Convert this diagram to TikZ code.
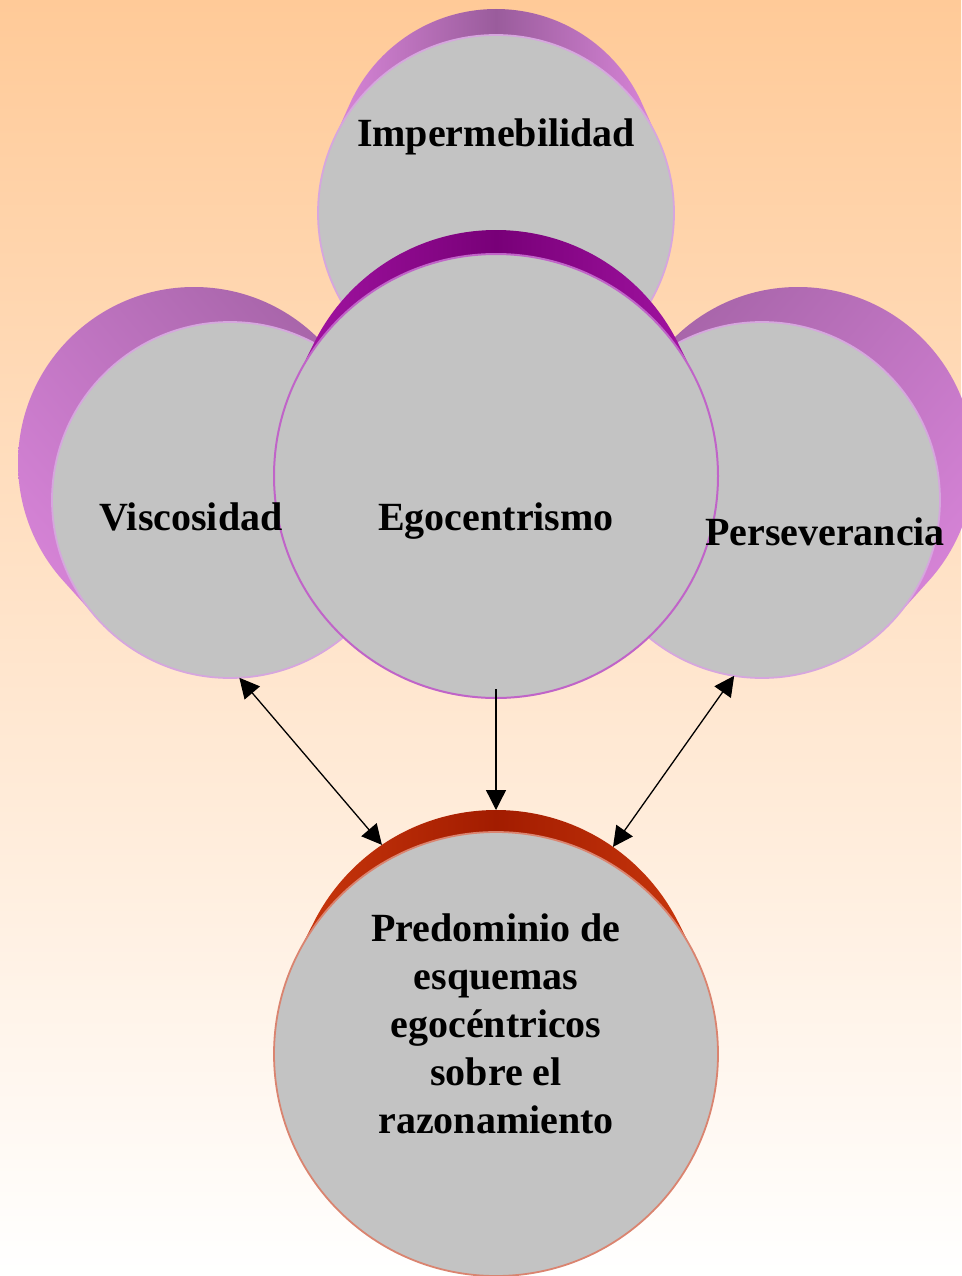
\documentclass[tikz,border=0pt]{standalone}
\usepackage{fontspec}
\setmainfont{Liberation Serif}
\usetikzlibrary{arrows.meta,calc,shadings}
\definecolor{bgtop}{HTML}{FFCA98}
\definecolor{facegray}{HTML}{C3C3C3}
\definecolor{rimlight}{HTML}{D6A6DE}
\definecolor{rimego}{HTML}{C064C8}
\definecolor{rimpred}{HTML}{DA8470}
\definecolor{orchdark}{HTML}{9A5C9C}
\definecolor{orchmid}{HTML}{C276C4}
\definecolor{orchlight}{HTML}{E08AE0}
\definecolor{magdark}{HTML}{780078}
\definecolor{maglight}{HTML}{A816A8}
\definecolor{reddark}{HTML}{A21C00}
\definecolor{redlight}{HTML}{CE3A0E}
\newcommand{\drumside}[7]{%
  \begin{scope}
    \clip foreach \k [evaluate=\k as \rr using {#3+(#6-#3)*\k/30}] in {0,...,30}
      {({#1+(#4-#1)*\k/30},{#2+(#5-#2)*\k/30}) circle [radius=\rr pt]};
    \shade[#7] ({min(#1-#3,#4-#6)-2},{min(#2-#3,#5-#6)-2}) rectangle ({max(#1+#3,#4+#6)+2},{max(#2+#3,#5+#6)+2});
  \end{scope}}
\tikzset{
  face/.style={circle, fill=facegray, inner sep=0pt, outer sep=0pt, line width=1.8pt},
  lbl/.style={font=\fontsize{40}{48}\selectfont\bfseries, anchor=base, inner sep=0pt},
  conn/.style={line width=1.3pt, -{Triangle[length=20pt,width=20pt]}},
  conn2/.style={line width=1.3pt, {Triangle[length=20pt,width=20pt]}-{Triangle[length=20pt,width=20pt]}},
}
\begin{document}
\begin{tikzpicture}[x=1pt,y=-1pt]
\useasboundingbox (0,0) rectangle (961,1276);
\shade[top color=bgtop, bottom color=white] (0,0) rectangle (961,1276);

% Impermebilidad
\drumside{496}{169}{160}{496}{213}{178}{left color=orchlight, right color=orchlight, middle color=orchdark}
\node[face, draw=rimlight, minimum size=356pt] (imp) at (496,213) {};

% Viscosidad
\drumside{194}{463}{176}{230}{500}{178}{upper right=orchdark, upper left=orchmid, lower left=orchlight, lower right=orchmid}
\node[face, draw=rimlight, minimum size=356pt] (visc) at (230,500) {};

% Perseverancia
\drumside{798}{463}{176}{762}{500}{178}{upper left=orchdark, upper right=orchmid, lower right=orchlight, lower left=orchmid}
\node[face, draw=rimlight, minimum size=356pt] (pers) at (762,500) {};

% Egocentrismo
\drumside{496}{433}{203}{496}{476}{222}{left color=maglight, right color=maglight, middle color=magdark}
\node[face, draw=rimego, line width=2pt, minimum size=444pt] (ego) at (496,476) {};

% Predominio
\drumside{496}{1014}{204}{496}{1054}{222}{left color=redlight, right color=redlight, middle color=reddark}
\node[circle, inner sep=0pt, outer sep=0pt, minimum size=408pt] (predback) at (496,1014) {};
\node[face, draw=rimpred, minimum size=444pt] (pred) at (496,1054) {};

% labels
\node[lbl] (timp) at (496,147) {Impermebilidad};
\node[lbl] (tvisc) at (191,530) {Viscosidad};
\node[lbl] (tego) at (496,530) {Egocentrismo};
\node[lbl] (tpers) at (825,545) {Perseverancia};
\node[lbl, align=center] (tpred) at (496,1133) {Predominio de\\esquemas\\egocéntricos\\sobre el\hspace*{10pt}\\razonamiento};

% connectors
\coordinate (egoout) at ([yshift=9pt]ego.south);
\draw[conn] (egoout) -- (predback.90);
\draw[conn2] (visc.-87) -- (predback.124.5);
\draw[conn2] (pers.-99) -- (predback.55.8);
\end{tikzpicture}
\end{document}
